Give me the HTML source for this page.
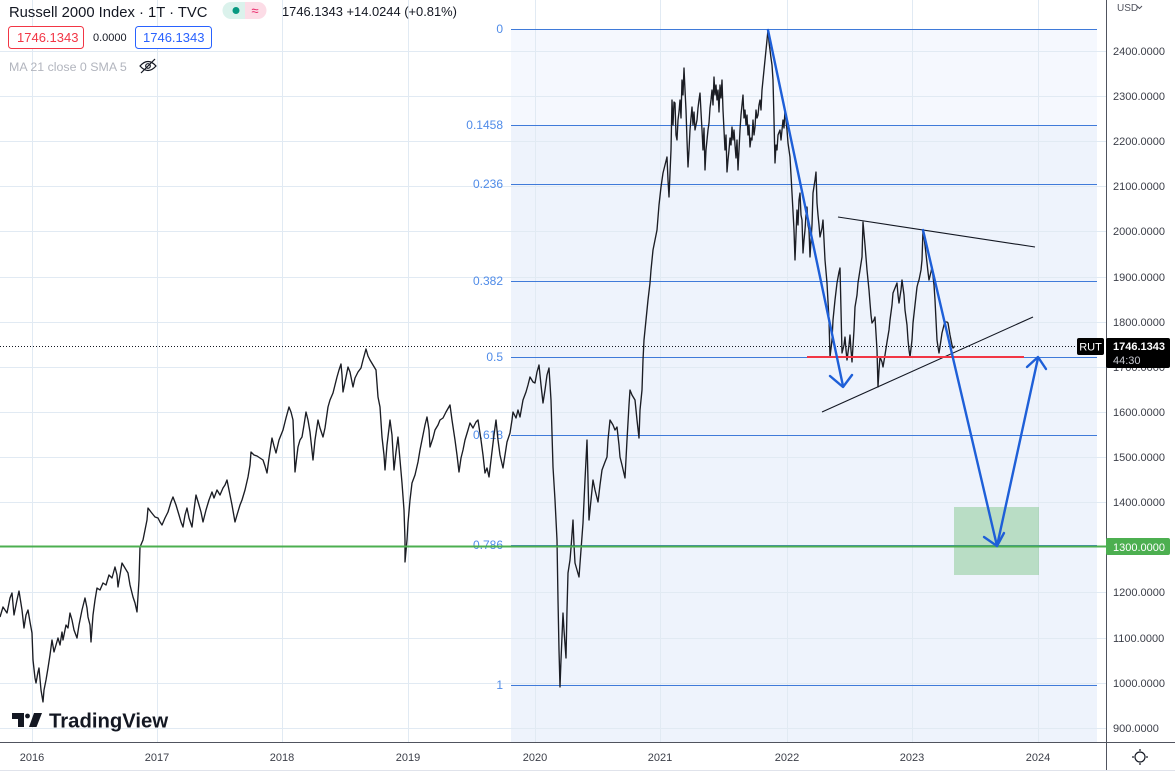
<!DOCTYPE html>
<html><head><meta charset="utf-8"><style>
html,body{margin:0;padding:0;background:#fff;}
body{width:1175px;height:778px;overflow:hidden;position:relative;font-family:"Liberation Sans",Arial,sans-serif;}
svg{position:absolute;left:0;top:0;}
</style></head><body>
<svg width="1175" height="778" viewBox="0 0 1175 778" xmlns="http://www.w3.org/2000/svg" font-family="Liberation Sans, Arial, sans-serif">
<!-- fib fill -->
<rect x="511" y="29" width="586" height="96" fill="#f5f8fe"/>
<rect x="511" y="125" width="586" height="617" fill="#eef3fc"/>
<!-- grid -->
<g stroke="#e1eaf3" stroke-width="1">
<line x1="32.5" y1="0" x2="32.5" y2="742"/><line x1="157.5" y1="0" x2="157.5" y2="742"/><line x1="282.5" y1="0" x2="282.5" y2="742"/><line x1="408.5" y1="0" x2="408.5" y2="742"/><line x1="535.5" y1="0" x2="535.5" y2="742"/><line x1="660.5" y1="0" x2="660.5" y2="742"/><line x1="787.5" y1="0" x2="787.5" y2="742"/><line x1="912.5" y1="0" x2="912.5" y2="742"/><line x1="1038.5" y1="0" x2="1038.5" y2="742"/>
<line x1="0" y1="51.5" x2="1106" y2="51.5"/><line x1="0" y1="96.5" x2="1106" y2="96.5"/><line x1="0" y1="141.5" x2="1106" y2="141.5"/><line x1="0" y1="186.5" x2="1106" y2="186.5"/><line x1="0" y1="231.5" x2="1106" y2="231.5"/><line x1="0" y1="277.5" x2="1106" y2="277.5"/><line x1="0" y1="322.5" x2="1106" y2="322.5"/><line x1="0" y1="367.5" x2="1106" y2="367.5"/><line x1="0" y1="412.5" x2="1106" y2="412.5"/><line x1="0" y1="457.5" x2="1106" y2="457.5"/><line x1="0" y1="502.5" x2="1106" y2="502.5"/><line x1="0" y1="592.5" x2="1106" y2="592.5"/><line x1="0" y1="638.5" x2="1106" y2="638.5"/><line x1="0" y1="683.5" x2="1106" y2="683.5"/><line x1="0" y1="728.5" x2="1106" y2="728.5"/>
</g>
<!-- fib lines -->
<g stroke="#3f7ad9" stroke-width="1">
<line x1="511" y1="29.5" x2="1097" y2="29.5"/><line x1="511" y1="125.5" x2="1097" y2="125.5"/><line x1="511" y1="184.5" x2="1097" y2="184.5"/><line x1="511" y1="281.5" x2="1097" y2="281.5"/><line x1="511" y1="357.5" x2="1097" y2="357.5"/><line x1="511" y1="435.5" x2="1097" y2="435.5"/><line x1="511" y1="545.5" x2="1097" y2="545.5"/><line x1="511" y1="685.5" x2="1097" y2="685.5"/>
</g>
<g fill="#4f8be8" font-size="12" text-anchor="end">
<text x="503" y="33">0</text><text x="503" y="129">0.1458</text><text x="503" y="188">0.236</text><text x="503" y="285">0.382</text><text x="503" y="361">0.5</text><text x="503" y="439">0.618</text><text x="503" y="549">0.786</text><text x="503" y="689">1</text>
</g>
<!-- green target box -->
<rect x="954" y="507" width="85" height="68" fill="#4caf50" fill-opacity="0.32"/>
<!-- dotted current price line -->
<line x1="0" y1="346.5" x2="1077" y2="346.5" stroke="#131722" stroke-width="1" stroke-dasharray="1,2"/>
<!-- price line -->
<polyline fill="none" stroke="#1b1d24" stroke-width="1.35" stroke-linejoin="round" points="0,617 3,607 7,613 10,598 12,593 14,615 17,600 19,591 22,610 24,628 26,615 28,610 30,622 32,633 33,660 35,678 36,683 38,672 39,668 41,690 43,702 44,690 46,680 48,668 50,655 52,640 54,652 56,645 58,638 60,645 62,632 63,640 66,625 68,628 70,613 72,620 74,630 77,638 79,625 82,610 85,598 87,608 88,617 90,625 91,642 93,615 95,600 97,588 100,590 103,583 106,585 109,575 112,578 115,567 117,575 118,587 120,575 122,563 125,568 128,573 130,585 133,597 135,603 137,612 139,580 140,547 143,540 145,530 147,520 148,508 151,512 155,517 158,518 160,522 162,525 165,518 168,512 171,502 173,497 176,505 179,515 181,522 183,527 185,515 187,508 189,518 192,527 194,510 196,495 199,505 201,512 203,522 206,510 209,500 212,492 214,498 217,490 220,495 223,488 225,485 227,480 229,490 232,505 235,522 237,515 240,505 242,500 245,490 248,477 250,465 251,452 254,455 257,456 260,458 263,460 265,466 267,473 269,458 272,438 274,446 276,453 279,440 281,435 283,430 286,418 289,407 291,412 293,420 294,445 295,472 297,455 298,447 300,440 302,437 304,425 306,412 308,420 310,432 313,460 315,440 318,420 320,428 323,437 325,428 328,407 330,400 333,393 335,385 337,377 339,370 341,364 342,375 343,392 345,382 348,367 350,372 353,387 355,378 358,372 361,368 363,360 366,349 368,356 370,360 373,365 376,370 378,397 380,407 382,437 384,455 385,470 387,445 390,420 392,435 394,470 396,452 398,437 400,460 402,483 404,510 405,540 405,562 407,540 408,523 410,500 412,483 415,475 418,462 420,450 423,435 425,425 427,417 429,430 430,447 433,438 435,430 438,425 440,420 443,418 446,412 450,405 452,420 455,440 457,455 459,472 461,458 463,450 465,440 468,430 470,423 473,428 476,422 478,420 481,440 483,455 485,473 487,468 489,477 491,460 494,435 496,420 498,440 500,455 503,468 505,455 507,442 510,433 512,420 513,412 516,418 518,410 520,417 523,400 526,392 528,385 530,377 533,382 535,383 537,372 539,365 541,385 543,403 545,390 547,375 549,368 551,400 553,467 555,500 557,540 558,600 559,650 560,687 561,660 563,613 564,630 566,658 567,610 568,573 570,560 571,548 573,520 574,545 575,563 577,570 579,577 581,550 583,523 585,480 587,440 588,480 589,520 591,500 593,480 595,490 598,502 600,485 602,470 605,462 607,457 608,440 610,420 613,425 615,430 617,427 619,445 620,457 622,465 625,478 627,440 629,405 630,390 632,395 635,400 637,420 639,438 640,410 642,390 643,360 644,340 646,320 648,300 650,283 651,270 653,250 655,240 657,230 659,205 661,187 663,173 665,165 667,157 668,180 669,197 671,150 672,100 673,125 674,102 675,103 676,135 677,140 678,120 679,112 680,100 681,118 682,80 683,95 684,68 685,90 686,110 687,140 688,167 689,150 690,130 691,118 692,107 693,125 694,112 695,130 697,120 698,108 699,100 700,93 701,112 702,130 703,150 704,128 705,170 706,150 707,140 708,130 709,123 710,108 711,100 712,90 713,105 714,77 715,95 716,85 717,100 718,90 719,112 720,85 721,98 722,80 723,110 724,130 725,150 726,135 727,172 728,160 729,150 730,138 731,145 732,127 733,140 734,130 735,145 736,158 737,140 738,170 739,150 740,130 741,115 742,105 743,95 744,118 745,110 746,125 747,115 748,135 749,125 750,147 751,138 752,140 753,120 754,135 755,127 756,110 757,118 758,115 759,105 760,100 761,110 762,90 763,80 764,70 765,60 767,40 768,30 769,42 770,50 771,58 772,65 773,80 774,120 775,163 776,145 777,150 778,135 780,130 781,140 783,120 784,128 785,110 787,130 788,143 790,157 791,175 792,193 794,230 795,260 796,235 797,210 798,225 799,200 800,193 801,215 802,220 803,253 804,240 805,230 806,215 807,207 808,225 809,230 810,257 811,240 812,225 813,193 815,180 816,172 817,203 818,215 819,225 820,237 822,228 823,220 824,240 825,260 827,283 829,320 830,357 832,340 833,320 835,300 837,283 839,272 840,268 841,310 842,353 844,345 845,337 846,350 847,360 849,345 850,335 851,350 852,362 854,330 855,307 857,295 858,283 860,270 862,257 863,222 865,245 867,270 869,290 870,303 871,315 872,323 874,320 875,317 877,350 878,387 879,370 880,357 882,362 883,367 885,355 887,342 889,330 890,320 892,305 893,293 895,288 897,283 898,295 899,303 901,290 902,280 904,295 905,310 907,325 908,340 909,350 910,357 912,340 913,323 915,305 917,287 918,283 919,280 921,270 922,260 923,230 925,245 927,263 928,272 929,280 931,272 932,267 934,285 935,300 936,320 937,340 938,347 939,353 941,340 942,333 944,325 945,322 947,322 948,323 950,335 952,345 953,348 955,346"/>
<!-- triangle lines -->
<line x1="838" y1="217" x2="1035" y2="247" stroke="#131722" stroke-width="1.1"/>
<line x1="822" y1="412" x2="1033" y2="317" stroke="#131722" stroke-width="1.1"/>
<!-- red support -->
<line x1="807" y1="357" x2="1024" y2="357" stroke="#f23645" stroke-width="2"/>
<!-- green horizontal -->
<line x1="0" y1="546.5" x2="1106" y2="546.5" stroke="#4caf50" stroke-width="2"/>
<!-- blue arrows -->
<g stroke="#1e5fd8" stroke-width="2.4" fill="none" stroke-linecap="round" stroke-linejoin="round">
<line x1="768" y1="30" x2="843" y2="386"/>
<polyline points="830,376 843,387 852,375"/>
<line x1="923" y1="230" x2="997" y2="546"/>
<polyline points="984,537 997,546 1004,533"/>
<line x1="997" y1="546" x2="1038" y2="358"/>
<polyline points="1027,367 1038,357 1046,369"/>
</g>
<!-- axes -->
<rect x="1107" y="0" width="68" height="778" fill="#fff"/>
<rect x="0" y="743" width="1107" height="35" fill="#fff"/>
<line x1="1106.5" y1="0" x2="1106.5" y2="770" stroke="#50535e" stroke-width="1"/>
<line x1="0" y1="742.5" x2="1175" y2="742.5" stroke="#50535e" stroke-width="1"/>
<line x1="0" y1="770.5" x2="1175" y2="770.5" stroke="#e0e3eb" stroke-width="1"/>
<g fill="#3b3e48" font-size="11">
<text x="1113" y="55">2400.0000</text><text x="1113" y="100">2300.0000</text><text x="1113" y="145">2200.0000</text><text x="1113" y="190">2100.0000</text><text x="1113" y="235">2000.0000</text><text x="1113" y="281">1900.0000</text><text x="1113" y="326">1800.0000</text><text x="1113" y="371">1700.0000</text><text x="1113" y="416">1600.0000</text><text x="1113" y="461">1500.0000</text><text x="1113" y="506">1400.0000</text><text x="1113" y="596">1200.0000</text><text x="1113" y="642">1100.0000</text><text x="1113" y="687">1000.0000</text><text x="1113" y="732">900.0000</text>
</g>
<text x="1117" y="11" fill="#50535e" font-size="10">USD</text>
<polyline points="1137,6 1139.5,8.5 1142,6" fill="none" stroke="#50535e" stroke-width="1"/>
<g fill="#3b3e48" font-size="11" text-anchor="middle">
<text x="32" y="761">2016</text><text x="157" y="761">2017</text><text x="282" y="761">2018</text><text x="408" y="761">2019</text><text x="535" y="761">2020</text><text x="660" y="761">2021</text><text x="787" y="761">2022</text><text x="912" y="761">2023</text><text x="1038" y="761">2024</text>
</g>
<!-- gear -->
<g stroke="#131722" stroke-width="1.2" fill="none">
<circle cx="1140" cy="757" r="5"/>
<line x1="1140" y1="749" x2="1140" y2="751"/><line x1="1140" y1="763" x2="1140" y2="765"/><line x1="1132" y1="757" x2="1134" y2="757"/><line x1="1146" y1="757" x2="1148" y2="757"/>
</g>
<!-- labels -->
<rect x="1077" y="338" width="27" height="17" rx="2" fill="#000"/>
<text x="1090.5" y="350.5" fill="#fff" font-size="11" text-anchor="middle">RUT</text>
<rect x="1106" y="338" width="64" height="30" rx="2" fill="#000"/>
<text x="1113" y="350" fill="#fff" font-size="11" font-weight="bold">1746.1343</text>
<text x="1113" y="364" fill="#c8cad2" font-size="11">44:30</text>
<rect x="1106" y="538" width="64" height="17" rx="2" fill="#4caf50"/>
<text x="1113" y="551" fill="#fff" font-size="11">1300.0000</text>
<!-- legend -->
<text x="9" y="17" fill="#131722" font-size="14.8">Russell 2000 Index · 1T · TVC</text>
<path d="M231,2 H245 V19 H231 A8.5,8.5 0 0 1 231,2 Z" fill="#dbf2ec"/>
<path d="M245,2 H258 A8.5,8.5 0 0 1 258,19 H245 Z" fill="#fcdce6"/>
<circle cx="236" cy="10.5" r="3.5" fill="#089981"/>
<text x="255" y="15" fill="#e91e63" font-size="13" text-anchor="middle">≈</text>
<text x="282" y="16" fill="#131722" font-size="12.9">1746.1343 +14.0244 (+0.81%)</text>
<rect x="8.5" y="26.5" width="75" height="22" rx="3" fill="#fff" stroke="#f23645"/>
<text x="17" y="42" fill="#f23645" font-size="13">1746.1343</text>
<text x="93" y="41" fill="#131722" font-size="11">0.0000</text>
<rect x="135.5" y="26.5" width="76" height="22" rx="3" fill="#fff" stroke="#2962ff"/>
<text x="143" y="42" fill="#2962ff" font-size="13">1746.1343</text>
<text x="9" y="71" fill="#b2b5be" font-size="12.4">MA 21 close 0 SMA 5</text>
<g stroke="#131722" stroke-width="1.2" fill="none">
<path d="M140,66 Q148,57 156,66 Q148,75 140,66 Z"/>
<circle cx="148" cy="66" r="2.3"/>
<line x1="141" y1="73" x2="155" y2="59"/>
</g>
<!-- TradingView logo -->
<g fill="#131722">
<path d="M12,713 H24 V727 H18 V719 H12 Z"/>
<circle cx="27.5" cy="716" r="2.4"/>
<path d="M34,713 H42 L36.5,727 H29 Z"/>
<text x="49" y="727.5" font-size="20.3" font-weight="bold">TradingView</text>
</g>
</svg>
</body></html>
